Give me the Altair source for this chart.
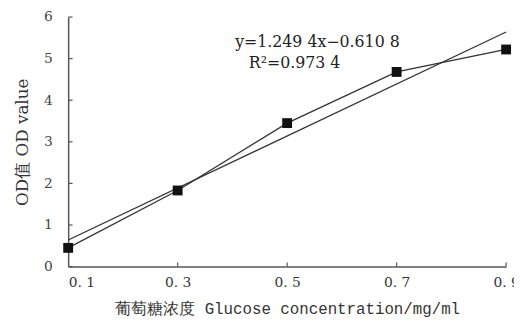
import altair as alt
import pandas as pd

# Data
conc = [0.1, 0.3, 0.5, 0.7, 0.9]
od_values = [0.45, 1.83, 3.45, 4.68, 5.22]

# Linear trend line (endpoints)
trend_x = [0.1, 0.9]
trend_y = [0.64, 5.64]

x_ticks = [0.1, 0.3, 0.5, 0.7, 0.9]
y_ticks = [0, 1, 2, 3, 4, 5, 6]

eq_lines = ["y=1.249 4x\u22120.610 8", "R\u00b2=0.973 4"]
eq_x = [0.405, 0.43]
eq_y = [5.40, 4.90]

pts = pd.DataFrame({"x": conc, "y": od_values})
trend = pd.DataFrame({"x": trend_x, "y": trend_y})
eqs = pd.DataFrame({"x": eq_x, "y": eq_y, "t": eq_lines})
xt = pd.DataFrame({"x": x_ticks[1:], "y0": [0] * 4, "y1": [0.1] * 4})
yt = pd.DataFrame({"y": y_ticks, "x0": [0.1] * 7, "x1": [0.108] * 7})

xs = alt.Scale(domain=[0.1, 0.9], nice=False, zero=False)
ys = alt.Scale(domain=[0, 6], nice=False)

xaxis = alt.Axis(
    values=x_ticks, ticks=False, grid=False, labelPadding=9,
    labelExpr="replace(format(datum.value, '.1f'), '.', '. ')",
    labelAlign=alt.condition("datum.value < 0.2", alt.value("left"), alt.value("center")),
    labelFont="DejaVu Serif", labelFontSize=14, labelColor="#333",
    title="葡萄糖浓度 Glucose concentration/mg/ml",
    titleFont="Liberation Mono", titleFontSize=16, titleFontWeight="normal",
    titleColor="#333", titlePadding=12,
    domainColor="#555", domainWidth=1.5,
)
yaxis = alt.Axis(
    values=y_ticks, ticks=False, grid=False, labelPadding=16,
    labelFont="DejaVu Serif", labelFontSize=14, labelColor="#444",
    title="OD值 OD value", titleFont="DejaVu Serif", titleFontSize=17,
    titleFontWeight="normal", titleColor="#333", titlePadding=12,
    domainColor="#555", domainWidth=1.5,
)

base_line = alt.Chart(pts).mark_line(color="#333", strokeWidth=1.3).encode(
    x=alt.X("x:Q", scale=xs, axis=xaxis),
    y=alt.Y("y:Q", scale=ys, axis=yaxis),
)
trend_line = alt.Chart(trend).mark_line(color="#333", strokeWidth=1.3).encode(
    x=alt.X("x:Q", scale=xs), y=alt.Y("y:Q", scale=ys)
)
squares = alt.Chart(pts).mark_square(color="#111", size=100, opacity=1).encode(
    x=alt.X("x:Q", scale=xs), y=alt.Y("y:Q", scale=ys)
)
xtick = alt.Chart(xt).mark_rule(color="#555", strokeWidth=1.2).encode(
    x=alt.X("x:Q", scale=xs), y=alt.Y("y0:Q", scale=ys), y2="y1:Q"
)
ytick = alt.Chart(yt).mark_rule(color="#555", strokeWidth=1.2).encode(
    y=alt.Y("y:Q", scale=ys), x=alt.X("x0:Q", scale=xs), x2="x1:Q"
)
eq_text = alt.Chart(eqs).mark_text(
    align="left", baseline="middle", font="DejaVu Serif", fontSize=16, color="#222"
).encode(x=alt.X("x:Q", scale=xs), y=alt.Y("y:Q", scale=ys), text="t:N")

chart = alt.layer(base_line, trend_line, squares, xtick, ytick, eq_text).properties(
    width=444, height=253,
    autosize=alt.AutoSizeParams(type="none"),
    padding={"left": 61, "top": 7, "right": 8, "bottom": 54},
    background="white",
).configure_view(stroke=None)

chart.save("out.html", embed_options={"renderer": "svg", "actions": False})
